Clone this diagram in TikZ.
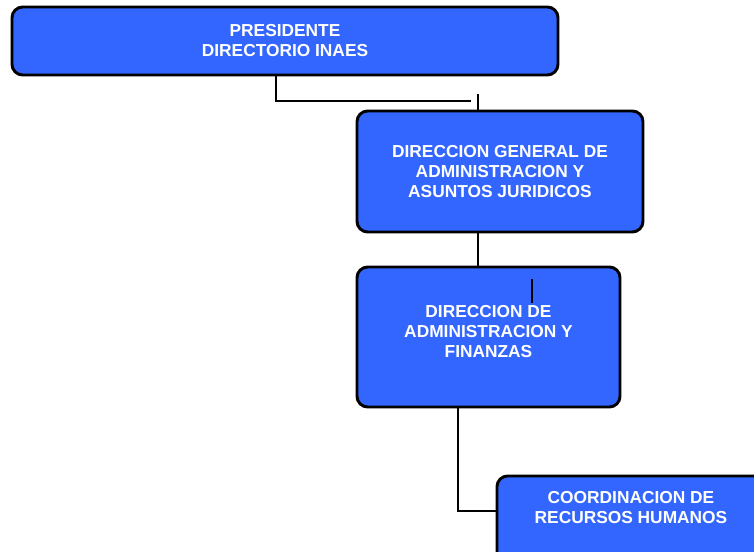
\documentclass[tikz,border=0pt]{standalone}
\usepackage{fontspec}
\setmainfont{Liberation Sans}
\usepackage{xcolor}
\usepackage{tikz}
\usetikzlibrary{positioning}
\definecolor{inaesblue}{RGB}{51,102,255}
\begin{document}
\begin{tikzpicture}[x=0.75pt, y=-0.75pt, font=\bfseries\fontsize{13}{15}\selectfont]
    
    % Define style for boxes
    \tikzstyle{unit} = [rectangle, rounded corners=8pt, line width=2.2pt, draw=black, fill=inaesblue, text=white, align=center, inner sep=0pt]
    \tikzstyle{link} = [line width=1.3pt, draw=black]
    
    \useasboundingbox (0,0) rectangle (754,552);
    \clip (0,0) rectangle (754,552);
    
    % Nodes
    \node (pres) [unit, minimum width=409.5pt, minimum height=51pt] at (285,41) {PRESIDENTE\\DIRECTORIO INAES};
    \node (dgaaj) [unit, minimum width=214.5pt, minimum height=90.75pt] at (500,171.5) {DIRECCION GENERAL DE\\ADMINISTRACION Y\\ASUNTOS JURIDICOS};
    \node (daf) [unit, minimum width=197.25pt, minimum height=105pt, text depth=9pt] at (488.5,337) {DIRECCION DE\\ADMINISTRACION Y\\FINANZAS};
    \node (crh) [unit, minimum width=201pt, minimum height=75pt, text depth=28.5pt] at (631,526) {COORDINACION DE\\RECURSOS HUMANOS};
    
    % Lines
    \coordinate (k1) at (471,101);
    \coordinate (k2) at (478,94);
    \coordinate (k3) at (532,279);
    \coordinate (k4) at (458,511);
    
    \draw[link] ([xshift=-6.75pt]pres.south) |- (k1);
    \draw[link] (k2) -- (k2 |- dgaaj.north);
    \draw[link] (k2 |- dgaaj.south) -- (k2 |- daf.north);
    \draw[link] (k3) -- ++(0,24);
    \draw[link] (k4 |- daf.south) |- (k4 -| crh.west);
    
\end{tikzpicture}
\end{document}
